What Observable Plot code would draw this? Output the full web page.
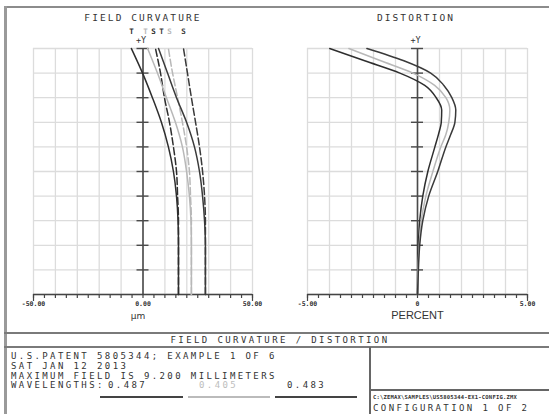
<!DOCTYPE html>
<html><head><meta charset="utf-8">
<script src="https://cdn.jsdelivr.net/npm/d3@7"></script>
<script src="https://cdn.jsdelivr.net/npm/@observablehq/plot@0.6"></script>
<style>
body{margin:0;background:#fff;}
#wrap{position:relative;width:549px;height:414px;overflow:hidden;background:#fff;font-family:"DejaVu Sans Mono",monospace;color:#333;}
.abs{position:absolute;white-space:nowrap;line-height:1;}
.ln{position:absolute;background:#8a8a8a;}
.pl{position:absolute;top:0;}
.pl svg{overflow:visible;}
</style></head><body><div id="wrap"></div>
<script>
// ---- data ----
const fields = [0, 0.1, 0.2, 0.3, 0.4, 0.5, 0.6, 0.7, 0.8, 0.9, 1.0];
const fcT487 = [16.2, 16.2, 16.2, 16.0, 15.3, 13.9, 11.6, 8.4, 4.3, -0.2, -5.3];
const fcS487 = [16.2, 16.2, 16.2, 16.2, 15.8, 15.3, 13.9, 12.1, 9.8, 8.0, 5.7];
const fcT405 = [22.1, 22.1, 22.1, 21.9, 21.2, 19.9, 18.0, 14.8, 10.7, 6.6, 2.1];
const fcS405 = [22.1, 22.1, 22.1, 22.1, 21.7, 21.2, 19.9, 18.0, 15.8, 13.5, 11.6];
const fcT483 = [28.5, 28.5, 28.5, 28.1, 27.2, 25.8, 23.5, 19.9, 15.3, 11.2, 7.1];
const fcS483 = [28.5, 28.5, 28.5, 28.5, 28.1, 27.2, 25.8, 24.0, 22.1, 20.3, 18.5];

const distFields = [0, 0.1, 0.2, 0.3, 0.4, 0.5, 0.6, 0.65, 0.7, 0.75, 0.8, 0.85, 0.9, 0.95, 1.0];
const dist487 = [0, 0.01, 0.04, 0.10, 0.24, 0.47, 0.79, 0.95, 1.08, 1.10, 0.85, 0.33, -0.80, -2.40, -3.99];
const dist405 = [0, 0.02, 0.08, 0.17, 0.38, 0.70, 1.06, 1.29, 1.42, 1.47, 1.29, 0.78, -0.21, -1.67, -3.12];
const dist483 = [0, 0.04, 0.10, 0.24, 0.51, 0.92, 1.29, 1.51, 1.70, 1.74, 1.56, 1.20, 0.60, -0.62, -2.30];

const fcTickLabels = ["-50.00", "0.00", "50.00"];
const fcTickValues = [-50, 0, 50];
const dTickLabels = ["-5.00", "0", "5.00"];
const dTickValues = [-5, 0, 5];

const wavelengths = ["0.487", "0.405", "0.483"];
const infoLines = [
  "U.S.PATENT 5805344; EXAMPLE 1 OF 6",
  "SAT JAN 12 2013",
  "MAXIMUM FIELD IS 9.200 MILLIMETERS"
];

// ---- styles ----
const cBlack = "#2e2e2e", cGray = "#b8b8b8", cDark = "#3a3a3a";
const wrap = document.getElementById("wrap");
const mono = "DejaVu Sans Mono";

function curve(ys, xs){ return ys.map((f,i)=>({f, x: xs[i]})); }

function makePlot(opts){
  const {left, width, mL, mR, domain, gridStep, minorStep, series, labels, tickVals, tickLabs, unit, unitFont, unitSize, unitDx} = opts;
  const height = 330, mT = 48, mB = 36;
  const pxPerUnit = (width - mL - mR) / (domain[1] - domain[0]);
  const hw = 6 / pxPerUnit;
  const marks = [
    Plot.gridX(d3.range(domain[0], domain[1] + gridStep/2, gridStep), {stroke: "#dcdcdc", strokeOpacity: 1, strokeWidth: 1.3}),
    Plot.gridY(d3.range(0, 1.001, 0.1), {stroke: "#dcdcdc", strokeOpacity: 1, strokeWidth: 1.3}),
    Plot.ruleX([0], {stroke: "#4a4a4a", strokeWidth: 1.6}),
    Plot.ruleY(d3.range(0.1, 1.001, 0.1), {x1: -hw, x2: hw, stroke: "#4a4a4a", strokeWidth: 1.4}),
    Plot.ruleY([0], {stroke: "#444", strokeWidth: 1.6}),
    Plot.axisX(d3.range(domain[0], domain[1] + minorStep/2, minorStep), {anchor: "bottom", tickSize: 4, tickFormat: () => "", label: null, stroke: "#444", strokeWidth: 1.2}),
    Plot.axisX([domain[0], domain[1]], {anchor: "bottom", tickSize: 7, tickFormat: () => "", label: null, stroke: "#444", strokeWidth: 1.2}),
    ...series.map(s => Plot.line(s.data, {x: "x", y: "f", curve: "monotone-y", stroke: s.color, strokeWidth: 1.5, strokeDasharray: s.dash || null})),
    Plot.text(tickVals, {x: d => d, text: (d,i) => tickLabs[i], frameAnchor: "bottom", dy: 11, fontFamily: mono, fontWeight: "bold", fontSize: 6.5, fill: "#333"}),
    Plot.text([unit], {x: 0, text: d => d, frameAnchor: "bottom", dy: 24, dx: unitDx, fontFamily: unitFont, fontSize: unitSize, fill: "#333"}),
    Plot.text(["+Y"], {x: 0, y: 1, text: d => d, dy: -8, dx: -2, fontFamily: mono, fontSize: 8.5, fill: "#333"})
  ];
  if (labels) labels.forEach(l => marks.push(
    Plot.text([l], {x: "x", y: 1, text: "t", dx: l.dx, dy: -17, fill: l.c, fontFamily: mono, fontSize: 7.5, fontWeight: "bold"})
  ));
  const p = Plot.plot({
    width, height, marginLeft: mL, marginRight: mR, marginTop: mT, marginBottom: mB,
    x: {domain, axis: null, label: null}, y: {domain: [0, 1], axis: null},
    style: {background: "transparent"},
    marks
  });
  const d = document.createElement("div");
  d.className = "pl"; d.style.left = left + "px";
  d.appendChild(p); wrap.appendChild(d);
}

const fcSeries = [
  {data: curve(fields, fcT487), color: cBlack},
  {data: curve(fields, fcS487), color: cBlack, dash: "7,3"},
  {data: curve(fields, fcT405), color: cGray},
  {data: curve(fields, fcS405), color: cGray, dash: "7,3"},
  {data: curve(fields, fcT483), color: cDark},
  {data: curve(fields, fcS483), color: cDark, dash: "7,3"}
];
const fcLabels = [
  {x: fcT487[10], t: "T", c: cBlack, dx: 0},
  {x: fcT405[10], t: "T", c: cGray, dx: -2},
  {x: fcS487[10], t: "S", c: cBlack, dx: -2},
  {x: fcT483[10], t: "T", c: cDark, dx: 3},
  {x: fcS405[10], t: "S", c: cGray, dx: 1},
  {x: fcS483[10], t: "S", c: cDark, dx: 0}
];

makePlot({left: 0, width: 275, mL: 33, mR: 23, domain: [-50, 50], gridStep: 10, minorStep: 5,
  series: fcSeries, labels: fcLabels, tickVals: fcTickValues, tickLabs: fcTickLabels,
  unit: "µm", unitFont: "DejaVu Sans", unitSize: 9, unitDx: -5});

const dSeries = [
  {data: curve(distFields, dist487), color: cBlack},
  {data: curve(distFields, dist405), color: cGray},
  {data: curve(distFields, dist483), color: cDark}
];
makePlot({left: 280, width: 269, mL: 27, mR: 22, domain: [-5, 5], gridStep: 1, minorStep: 0.5,
  series: dSeries, labels: null, tickVals: dTickValues, tickLabs: dTickLabels,
  unit: "PERCENT", unitFont: "Liberation Sans", unitSize: 11, unitDx: 0});

// ---- frame & text ----
function line(x, y, w, h, c){ const e = document.createElement("div"); e.className = "ln"; Object.assign(e.style, {left: x+"px", top: y+"px", width: w+"px", height: h+"px"}); if (c) e.style.background = c; wrap.appendChild(e); }
function txt(s, x, y, o = {}){ const e = document.createElement("div"); e.className = "abs"; e.textContent = s;
  Object.assign(e.style, {left: x+"px", top: y+"px", fontSize: (o.size||9)+"px", letterSpacing: (o.ls!=null?o.ls:2.3)+"px", color: o.color||"#333", fontWeight: o.weight||"normal", fontFamily: o.font||mono});
  if (o.center) e.style.transform = "translateX(-50%)";
  wrap.appendChild(e); return e; }

line(4, 6, 545, 2, "#8c8c8c");
line(4, 6, 3, 408, "#9a9a9a");
line(4, 332, 545, 2, "#7a7a7a");
line(4, 346, 545, 2, "#7a7a7a");
line(369, 347, 2, 67, "#666");
line(370, 389, 179, 1.5, "#666");

txt("FIELD CURVATURE", 143, 12.5, {center: true, size: 9.5, ls: 2.1});
txt("DISTORTION", 416, 12.5, {center: true, size: 9.5, ls: 2.1});
txt("FIELD CURVATURE / DISTORTION", 280, 336, {center: true, size: 9, ls: 2.4});

const rowTops = [351.5, 362, 371.5];
infoLines.forEach((s, i) => txt(s, 11, rowTops[i], {size: 9, ls: 2.4}));
txt("WAVELENGTHS:", 11, 381, {size: 9, ls: 2.4});
txt(wavelengths[0], 108, 381, {size: 9, ls: 2.4});
txt(wavelengths[1], 199, 381, {size: 9, ls: 2.4, color: "#bdbdbd"});
txt(wavelengths[2], 287, 381, {size: 9, ls: 2.4});
line(100, 396, 83, 1.5, "#444");
line(188, 396, 82, 1.5, "#bbb");
line(275, 396, 82, 1.5, "#444");

txt("C:\\ZEMAX\\SAMPLES\\US5805344-EX1-CONFIG.ZMX", 373, 394.5, {size: 5.5, ls: 0.2, weight: "bold"});
txt("CONFIGURATION 1 OF 2", 373, 403.5, {size: 9, ls: 2.4});
</script></body></html>
